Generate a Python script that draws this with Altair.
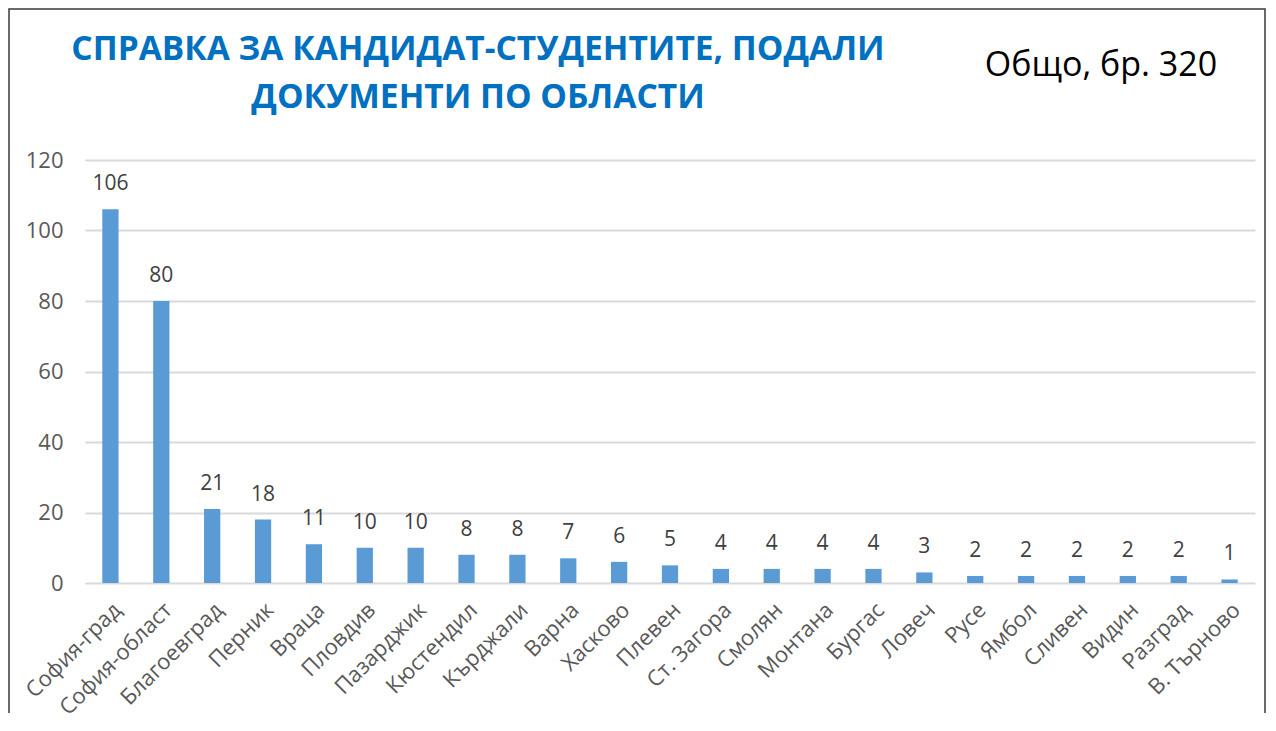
import altair as alt
import pandas as pd

regions = ["София-град", "София-област", "Благоевград", "Перник", "Враца", "Пловдив",
           "Пазарджик", "Кюстендил", "Кърджали", "Варна", "Хасково", "Плевен",
           "Ст. Загора", "Смолян", "Монтана", "Бургас", "Ловеч", "Русе", "Ямбол",
           "Сливен", "Видин", "Разград", "В. Търново"]
counts = [106, 80, 21, 18, 11, 10, 10, 8, 8, 7, 6, 5, 4, 4, 4, 4, 3, 2, 2, 2, 2, 2, 1]
title_lines = ["СПРАВКА ЗА КАНДИДАТ-СТУДЕНТИТЕ, ПОДАЛИ", "ДОКУМЕНТИ ПО ОБЛАСТИ"]
total_label = "Общо, бр. 320"

df = pd.DataFrame({"region": regions, "count": counts})

FONT = "Open Sans"

base = alt.Chart(df).encode(
    x=alt.X("region:N", sort=regions,
            scale=alt.Scale(paddingInner=0.68, paddingOuter=0.34),
            axis=alt.Axis(title=None, labelAngle=-45, labelFontSize=22, labelColor="#595959",
                          labelFont=FONT, ticks=False, domain=False, labelPadding=16)),
    y=alt.Y("count:Q", scale=alt.Scale(domain=[0, 120]),
            axis=alt.Axis(title=None, values=[0, 20, 40, 60, 80, 100, 120], labelFontSize=22,
                          labelColor="#595959", labelFont=FONT, ticks=False, domain=False,
                          gridColor="#D9D9D9", gridWidth=2, labelPadding=22)),
)

bars = base.mark_bar(color="#5B9BD5")
labels = base.mark_text(baseline="bottom", dy=-15, fontSize=21, color="#404040", font=FONT).encode(
    text="count:Q")

title1 = alt.Chart(pd.DataFrame({"t": [title_lines[0]]})).mark_text(
    fontSize=33.5, font=FONT, fontWeight="bold", color="#0070C0", align="center", baseline="middle"
).encode(text="t:N", x=alt.value(478 - 85), y=alt.value(50 - 160))

title2 = alt.Chart(pd.DataFrame({"t": [title_lines[1]]})).mark_text(
    fontSize=33.5, font=FONT, fontWeight="bold", color="#0070C0", align="center", baseline="middle"
).encode(text="t:N", x=alt.value(478 - 85), y=alt.value(98 - 160))

total = alt.Chart(pd.DataFrame({"t": [total_label]})).mark_text(
    fontSize=34, font=FONT, color="#000000", align="center", baseline="middle"
).encode(text="t:N", x=alt.value(1101 - 85), y=alt.value(66 - 160))

frame = alt.Chart(pd.DataFrame({"f": [1]})).mark_rect(
    fill=None, stroke="#3a3a3a", strokeWidth=1.5
).encode(x=alt.value(9 - 85), x2=alt.value(1265 - 85), y=alt.value(9 - 160), y2=alt.value(760 - 160))

chart = alt.layer(frame, bars, labels, title1, title2, total).properties(
    width=1170, height=423,
    autosize=alt.AutoSizeParams(type="none"),
    padding={"left": 77, "top": 152, "right": 12, "bottom": 130},
).configure_view(stroke=None)

chart.save("out.html", embed_options={"renderer": "svg", "actions": False})
